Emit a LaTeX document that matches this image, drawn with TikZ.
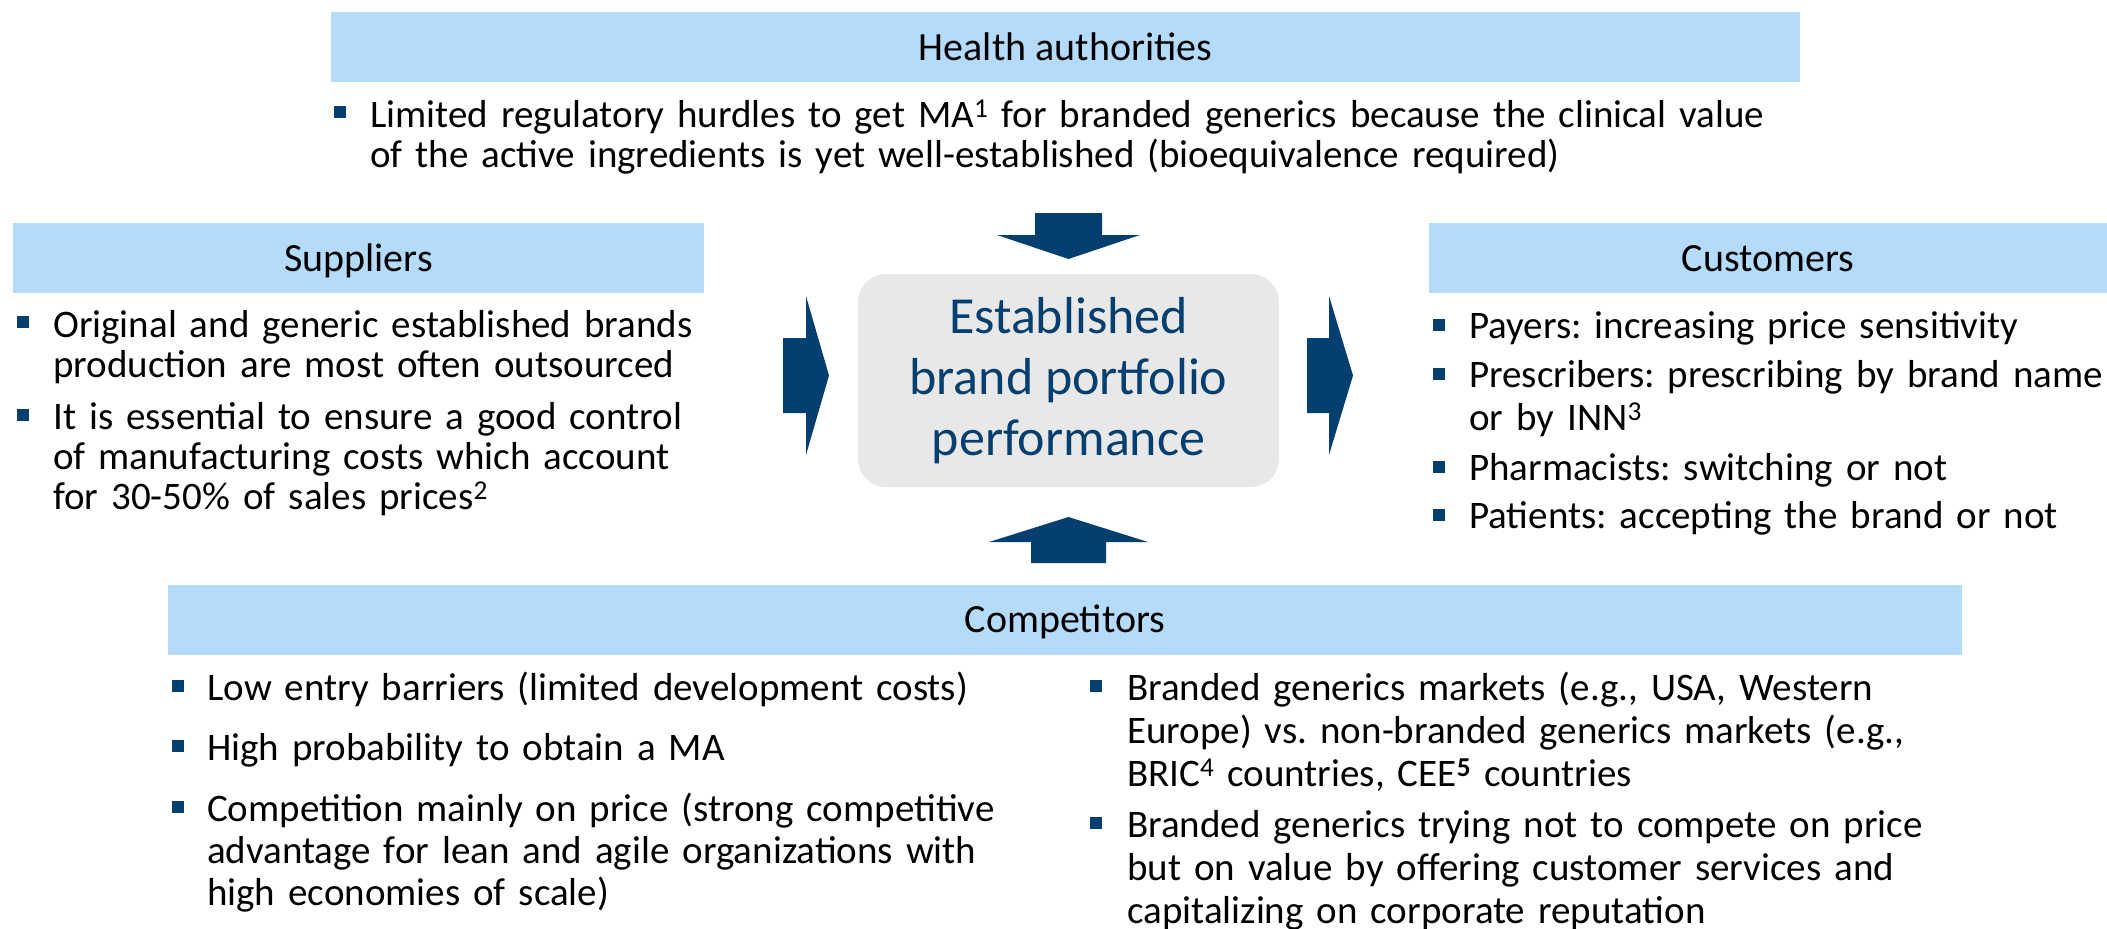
\documentclass[tikz,border=0pt]{standalone}
\usepackage{fontspec}
\setmainfont{Carlito}
\frenchspacing
\definecolor{hdr}{RGB}{180,219,250}
\definecolor{dkb}{RGB}{4,63,112}
\definecolor{cgray}{RGB}{232,232,232}
\begin{document}
\begin{tikzpicture}[x=1pt,y=-1pt,
  hdrbox/.style={fill=hdr, inner sep=0pt, text height=26pt, text depth=0pt,
    minimum height=70pt, font=\fontsize{40}{48}\selectfont},
  bodytxt/.style={anchor=base west, inner sep=0pt, text width=900pt, align=left,
    font=\fontsize{39}{#1}\selectfont\frenchspacing},
  bul/.style={fill=dkb},
  blockarrow/.style={fill=dkb}]
\useasboundingbox (0,0) rectangle (2107,929);

% headers
\node[hdrbox, minimum width=1469pt] (ha) at (1065.5,47) {Health authorities};
\node[hdrbox, minimum width=691pt] (sup) at (358.5,258) {Suppliers};
\node[hdrbox, minimum width=678pt] (cus) at (1768,258) {Customers};
\node[hdrbox, minimum width=1794pt] (com) at (1065,619.5) {Competitors};

% centre
\node[fill=cgray, rounded corners=28pt, minimum width=421pt, minimum height=213pt,
  text=dkb, align=center, inner sep=0pt, font=\fontsize{52}{61}\selectfont]
  (ctr) at (1068.5,380.5) {Established\\brand portfolio\\performance};

% block arrows
\fill[blockarrow] (1035,213) -- (1102,213) -- (1102,235) -- (1140,235) -- (1068.5,259)
  -- (997,235) -- (1035,235) -- cycle;
\fill[blockarrow] (783,338) -- (806,338) -- (806,296) -- (829,375.5) -- (806,455)
  -- (806,413) -- (783,413) -- cycle;
\fill[blockarrow] (1307,338) -- (1329,338) -- (1329,296) -- (1353,375.5) -- (1329,455)
  -- (1329,413) -- (1307,413) -- cycle;
\fill[blockarrow] (1031,563) -- (1106,563) -- (1106,542) -- (1148,542) -- (1068.5,517)
  -- (989,542) -- (1031,542) -- cycle;

% health authorities
\node[bodytxt=40pt, text width=1500pt] (ha1) at (370,127)
  {Limited regulatory hurdles to get MA\textsuperscript{1} for branded generics because the clinical value\\
   of the active ingredients is yet well-established (bioequivalence required)};
\fill[bul] (334,106) rectangle ++(12,12);

% suppliers
\node[bodytxt=40pt] (sup1) at (53,337)
  {Original and generic established brands\\production are most often outsourced};
\fill[bul] (17,316) rectangle ++(12,12);
\node[bodytxt=40pt] (sup2) at (53,429)
  {It is essential to ensure a good control\\of manufacturing costs which account\\for 30-50\% of sales prices\textsuperscript{2}};
\fill[bul] (17,409) rectangle ++(12,12);

% customers
\node[bodytxt=43pt] (cus1) at (1469,338) {Payers: increasing price sensitivity};
\fill[bul] (1433,319) rectangle ++(12,12);
\node[bodytxt=43pt] (cus2) at (1469,387) {Prescribers: prescribing by brand name\\or by INN\textsuperscript{3}};
\fill[bul] (1433,368) rectangle ++(12,12);
\node[bodytxt=43pt] (cus3) at (1469,480) {Pharmacists: switching or not};
\fill[bul] (1433,461) rectangle ++(12,12);
\node[bodytxt=43pt] (cus4) at (1469,528) {Patients: accepting the brand or not};
\fill[bul] (1433,509) rectangle ++(12,12);

% competitors left
\node[bodytxt=42pt] (cl1) at (207,700) {Low entry barriers (limited development costs)};
\fill[bul] (172,680) rectangle ++(12,12);
\node[bodytxt=42pt] (cl2) at (207,760) {High probability to obtain a MA};
\fill[bul] (172,740) rectangle ++(12,12);
\node[bodytxt=42pt] (cl3) at (207,821)
  {Competition mainly on price (strong competitive\\advantage for lean and agile organizations with\\high economies of scale)};
\fill[bul] (172,801) rectangle ++(12,12);

% competitors right
\node[bodytxt=43pt] (cr1) at (1127,700)
  {Branded generics markets (e.g., USA, Western\\Europe) vs. non-branded generics markets (e.g.,\\BRIC\textsuperscript{4} countries, CEE\textsuperscript{\textbf{5}} countries};
\fill[bul] (1090,680) rectangle ++(12,12);
\node[bodytxt=43pt] (cr2) at (1127,837)
  {Branded generics trying not to compete on price\\but on value by offering customer services and\\capitalizing on corporate reputation};
\fill[bul] (1090,817) rectangle ++(12,12);
\end{tikzpicture}
\end{document}
